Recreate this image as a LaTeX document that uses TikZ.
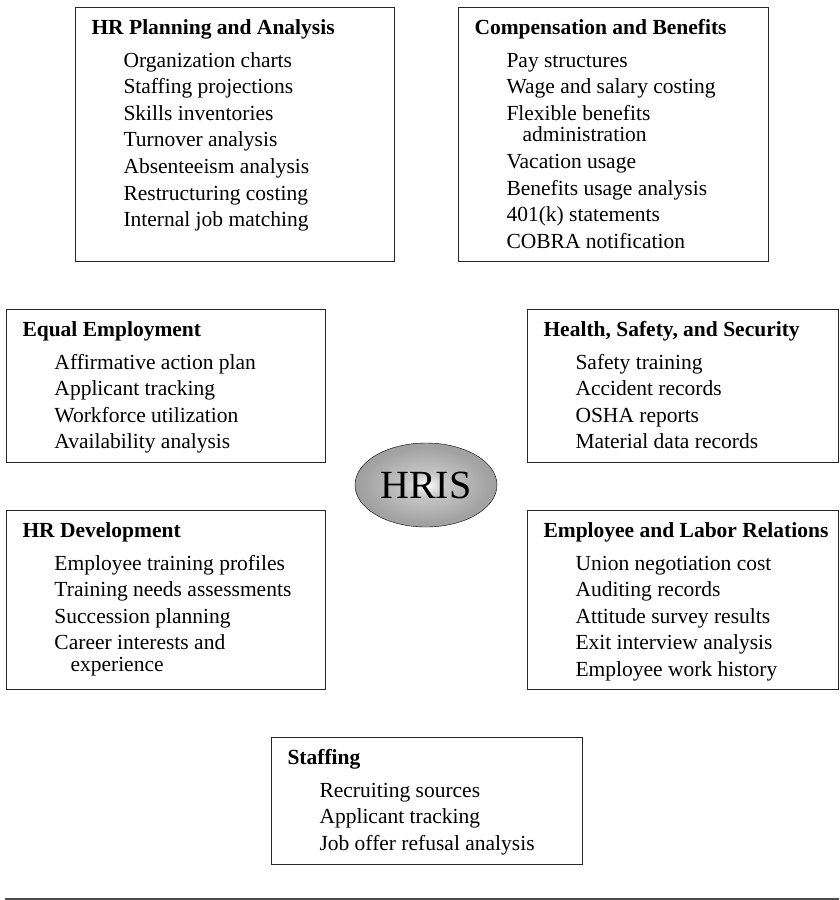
\documentclass[tikz,border=0pt]{standalone}
\usepackage{fontspec}
\setmainfont{Liberation Serif}
\usepackage{tikz}
\usetikzlibrary{shapes}
\pgfdeclareradialshading{hrisglow}{\pgfpoint{0bp}{0bp}}{color(0bp)=(white); color(7bp)=(black!22); color(22bp)=(black!36); color(50bp)=(black!50)}
\tikzset{
	panel/.style = {draw = black!85, rectangle, line width = 1pt, anchor = north west,
		inner xsep = 16pt, inner ysep = 0pt, font = \fontsize{21.5}{26.6}\selectfont},
	hub/.style   = {draw, ellipse, thin, shading = hrisglow, minimum width = 142pt,
		minimum height = 84pt, inner sep = 0pt, font = \fontsize{40}{40}\selectfont}
}
\newcommand{\panelbody}[3]{\parbox[t][#2][t]{#1}{#3}}
\newcommand{\panelhead}[1]{\rule{0pt}{27pt}\mbox{\textbf{#1}}\\[6pt]}
\newcommand{\panelitem}[1]{\hspace*{32pt}#1}
\newcommand{\panelwrap}[1]{\\[-5pt]\hspace*{48pt}#1}

\begin{document}
\begin{tikzpicture}[x = 1pt, y = -1pt]
	\useasboundingbox (0,0) rectangle (839,900);

	% top row
	\draw
	node at (75,7) [panel] (plan) {\panelbody{287pt}{254pt}{%
		\panelhead{HR Planning and Analysis}%
		\panelitem{Organization charts}\\
		\panelitem{Staffing projections}\\
		\panelitem{Skills inventories}\\
		\panelitem{Turnover analysis}\\
		\panelitem{Absenteeism analysis}\\
		\panelitem{Restructuring costing}\\
		\panelitem{Internal job matching}}}
	node at (458,7) [panel] (comp) {\panelbody{278pt}{254pt}{%
		\panelhead{Compensation and Benefits}%
		\panelitem{Pay structures}\\
		\panelitem{Wage and salary costing}\\
		\panelitem{Flexible benefits}\panelwrap{administration}\\
		\panelitem{Vacation usage}\\
		\panelitem{Benefits usage analysis}\\
		\panelitem{401(k) statements}\\
		\panelitem{COBRA notification}}};

	% middle rows
	\draw
	node at (6,309) [panel] (equal) {\panelbody{287pt}{153pt}{%
		\panelhead{Equal Employment}%
		\panelitem{Affirmative action plan}\\
		\panelitem{Applicant tracking}\\
		\panelitem{Workforce utilization}\\
		\panelitem{Availability analysis}}}
	node at (527,309) [panel] (health) {\panelbody{279pt}{153pt}{%
		\panelhead{Health, Safety, and Security}%
		\panelitem{Safety training}\\
		\panelitem{Accident records}\\
		\panelitem{OSHA reports}\\
		\panelitem{Material data records}}}
	node at (6,510) [panel] (dev) {\panelbody{287pt}{179pt}{%
		\panelhead{HR Development}%
		\panelitem{Employee training profiles}\\
		\panelitem{Training needs assessments}\\
		\panelitem{Succession planning}\\
		\panelitem{Career interests and}\panelwrap{experience}}}
	node at (527,510) [panel] (labor) {\panelbody{279pt}{179pt}{%
		\panelhead{Employee and Labor Relations}%
		\panelitem{Union negotiation cost}\\
		\panelitem{Auditing records}\\
		\panelitem{Attitude survey results}\\
		\panelitem{Exit interview analysis}\\
		\panelitem{Employee work history}}};

	\node at (426,485) [hub] (hris) {HRIS};

	% bottom row
	\node at (271,737) [panel] (staff) {\panelbody{279pt}{127pt}{%
		\panelhead{Staffing}%
		\panelitem{Recruiting sources}\\
		\panelitem{Applicant tracking}\\
		\panelitem{Job offer refusal analysis}}};

	\draw[line width = 1.5pt, black!70] (5,899) -- (839,899);
\end{tikzpicture}
\end{document}
